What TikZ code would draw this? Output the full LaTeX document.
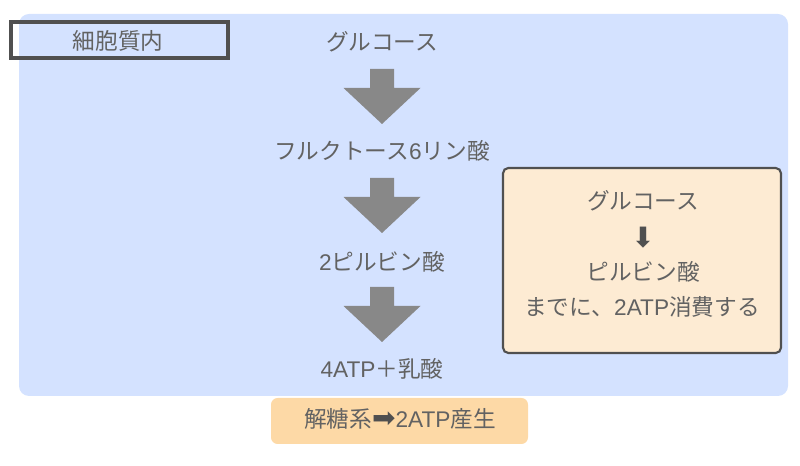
\documentclass[tikz,border=0pt]{standalone}
\usepackage{fontspec}
\setmainfont{Noto Sans CJK JP}
\newfontfamily\symfont{DejaVu Sans}
\newfontfamily\latfont{Liberation Sans}
\newcommand{\lat}[1]{{\latfont #1}}
\usetikzlibrary{positioning}
\definecolor{cytoblue}{HTML}{D4E2FF}
\definecolor{notefill}{HTML}{FDEBD3}
\definecolor{yieldfill}{HTML}{FDD9A6}
\definecolor{txtgray}{HTML}{626262}
\definecolor{arrgray}{HTML}{888888}
\definecolor{edgegray}{HTML}{505050}

\begin{document}
\begin{tikzpicture}[x=0.75pt, y=-0.75pt, font=\fontsize{17}{20}\selectfont,
  every node/.style={text=txtgray, inner sep=0pt},
  symb/.style={text=edgegray, font=\fontsize{21}{24}\selectfont\symfont}]
% 1 px of the sketch = 0.75pt
\useasboundingbox (0,0) rectangle (800,466);
\fill[cytoblue, rounded corners=7.5pt] (19,14) rectangle (788,396);
\draw[edgegray, line width=2.4pt] (11,22) rectangle (228,58);
\node (cyto) at (118,41) {細胞質内};
% main pathway
\node (glc) at (382,42) {グルコース};
\node (f6p) at (382,151) {フルクトース\lat{6}リン酸};
\node (pyr) at (382,262) {\lat{2}ピルビン酸};
\node (lac) at (382,369) {\lat{4ATP}＋乳酸};
\foreach \t in {69,178,287} {
  \fill[arrgray] (370,\t) -- ++(24,0) -- ++(0,19) -- ++(26.5,0) -- ++(-38.5,36)
    -- ++(-38.5,-36) -- ++(26.5,0) -- cycle;
}
% note on ATP use
\draw[edgegray, line width=1.6pt, fill=notefill, rounded corners=4pt] (503,168) rectangle (781,353);
\node (nglc) at (643,201) {グルコース};
\node[symb] (ndown) at (643,238) {⬇};
\node (npyr) at (643,272) {ピルビン酸};
\node (nuse) at (642,307) {までに、\lat{2ATP}消費する};
% net yield
\fill[yieldfill, rounded corners=5pt] (271,398) rectangle (528,444);
\node (yield) at (400,419) {解糖系{\symfont\fontsize{21}{24}\selectfont\color{edgegray}➡}\lat{2ATP}産生};
\end{tikzpicture}
\end{document}
